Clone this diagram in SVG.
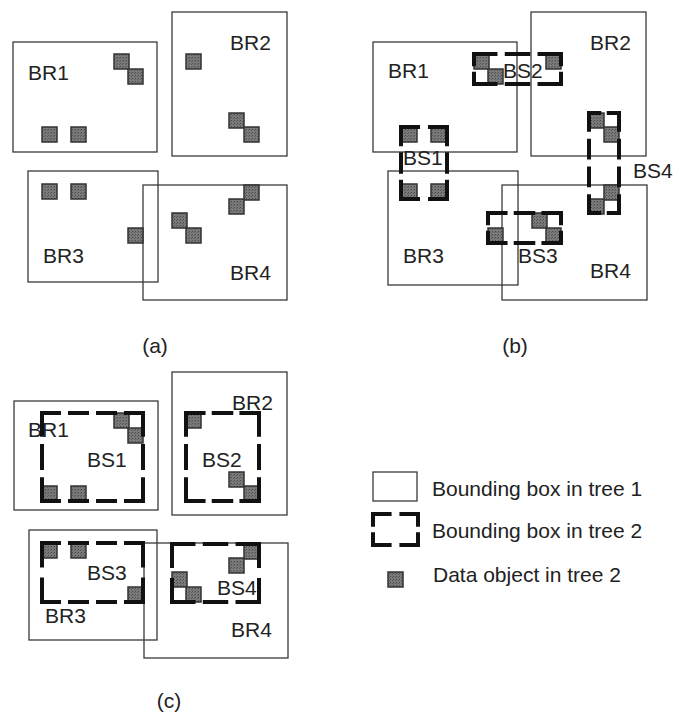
<svg xmlns="http://www.w3.org/2000/svg" width="675" height="715" viewBox="0 0 675 715">
<defs>
<pattern id="grain" width="3" height="3" patternUnits="userSpaceOnUse">
<rect width="3" height="3" fill="#7a7a7a"/>
<rect width="1" height="1" fill="#4a4a4a"/>
<rect x="2" y="1" width="1" height="1" fill="#5a5a5a"/>
</pattern>
</defs>
<style>
.br{fill:none;stroke:#3a3a3a;stroke-width:1.3}
.obj{fill:url(#grain);stroke:#333;stroke-width:1.5}
.bs line{stroke:#111;stroke-width:4;stroke-linecap:butt;fill:none}
.d2{stroke-dasharray:0.42 0.16 0.42 0}
.d3{stroke-dasharray:0.28 0.08 0.28 0.08 0.28 0}
.d4{stroke-dasharray:0.2 0.0667 0.2 0.0667 0.2 0.0666 0.2 0}
text{font-family:"Liberation Sans",Arial,Helvetica,sans-serif;font-size:21px;fill:#222}
.cap{text-anchor:middle}
</style>
<rect width="675" height="715" fill="#fff"/>

<!-- Panel (a) -->
<g id="a-br1"><rect class="br" x="13" y="42" width="144" height="110"/><text x="28" y="80">BR1</text></g>
<g id="a-br2"><rect class="br" x="172" y="12" width="115" height="144"/><text x="230" y="50">BR2</text></g>
<g id="a-br3"><rect class="br" x="28" y="171" width="130" height="111"/><text x="43" y="263">BR3</text></g>
<g id="a-br4"><rect class="br" x="143" y="185" width="144" height="115"/><text x="230" y="280">BR4</text></g>
<g id="a-objects">
<rect class="obj" x="114" y="54" width="15" height="15"/><rect class="obj" x="128" y="69" width="15" height="15"/>
<rect class="obj" x="42" y="127" width="15" height="15"/><rect class="obj" x="71" y="127" width="15" height="15"/>
<rect class="obj" x="186" y="54" width="15" height="15"/><rect class="obj" x="229" y="113" width="15" height="15"/><rect class="obj" x="244" y="127" width="15" height="15"/>
<rect class="obj" x="42" y="184" width="15" height="15"/><rect class="obj" x="71" y="184" width="15" height="15"/><rect class="obj" x="128" y="228" width="15" height="15"/>
<rect class="obj" x="244" y="185" width="15" height="15"/><rect class="obj" x="229" y="199" width="15" height="15"/><rect class="obj" x="172" y="213" width="15" height="15"/><rect class="obj" x="186" y="228" width="15" height="15"/>
</g>
<text class="cap" x="155" y="353">(a)</text>

<!-- Panel (b) -->
<g id="b-br1"><rect class="br" x="373" y="42" width="144" height="110"/><text x="388" y="78">BR1</text></g>
<g id="b-br2"><rect class="br" x="531" y="12" width="115" height="144"/><text x="590" y="50">BR2</text></g>
<g id="b-br3"><rect class="br" x="388" y="171" width="130" height="114"/><text x="403" y="263">BR3</text></g>
<g id="b-br4"><rect class="br" x="502" y="185" width="145" height="115"/><text x="590" y="278">BR4</text></g>
<g id="b-objects">
<rect class="obj" x="474" y="54" width="15" height="15"/><rect class="obj" x="488" y="69" width="15" height="15"/>
<rect class="obj" x="402" y="127" width="15" height="15"/><rect class="obj" x="431" y="127" width="15" height="15"/>
<rect class="obj" x="546" y="54" width="15" height="15"/><rect class="obj" x="589" y="113" width="15" height="15"/><rect class="obj" x="604" y="127" width="15" height="15"/>
<rect class="obj" x="402" y="184" width="15" height="15"/><rect class="obj" x="431" y="184" width="15" height="15"/><rect class="obj" x="488" y="228" width="15" height="15"/>
<rect class="obj" x="604" y="185" width="15" height="15"/><rect class="obj" x="589" y="199" width="15" height="15"/><rect class="obj" x="532" y="213" width="15" height="15"/><rect class="obj" x="546" y="228" width="15" height="15"/>
</g>
<g id="b-bs1" class="bs">
<line class="d2" pathLength="1" x1="399" y1="127" x2="449" y2="127"/><line class="d2" pathLength="1" x1="399" y1="199" x2="449" y2="199"/>
<line class="d3" pathLength="1" x1="401" y1="125" x2="401" y2="201"/><line class="d3" pathLength="1" x1="447" y1="125" x2="447" y2="201"/>
<text x="403" y="165">BS1</text></g>
<g id="b-bs2" class="bs">
<line class="d3" pathLength="1" x1="472" y1="54" x2="563" y2="54"/><line class="d3" pathLength="1" x1="472" y1="84" x2="563" y2="84"/>
<line class="d2" pathLength="1" x1="474" y1="52" x2="474" y2="86"/><line class="d2" pathLength="1" x1="561" y1="52" x2="561" y2="86"/>
<text x="503" y="78">BS2</text></g>
<g id="b-bs3" class="bs">
<line class="d3" pathLength="1" x1="486" y1="213" x2="563" y2="213"/><line class="d3" pathLength="1" x1="486" y1="243" x2="563" y2="243"/>
<line class="d2" pathLength="1" x1="488" y1="211" x2="488" y2="245"/><line class="d2" pathLength="1" x1="561" y1="211" x2="561" y2="245"/>
<text x="518" y="263">BS3</text></g>
<g id="b-bs4" class="bs">
<line class="d2" pathLength="1" x1="587" y1="113" x2="621" y2="113"/><line class="d2" pathLength="1" x1="587" y1="213" x2="621" y2="213"/>
<line class="d4" pathLength="1" x1="589" y1="111" x2="589" y2="215"/><line class="d4" pathLength="1" x1="619" y1="111" x2="619" y2="215"/>
<text x="633" y="178">BS4</text></g>
<text class="cap" x="515" y="353">(b)</text>

<!-- Panel (c) -->
<g id="c-br1"><rect class="br" x="14" y="401" width="144" height="109"/><text x="28" y="437">BR1</text></g>
<g id="c-br2"><rect class="br" x="172" y="372" width="115" height="143"/><text x="232" y="410">BR2</text></g>
<g id="c-br3"><rect class="br" x="29" y="530" width="128" height="110"/><text x="45" y="623">BR3</text></g>
<g id="c-br4"><rect class="br" x="144" y="543" width="144" height="115"/><text x="231" y="637">BR4</text></g>
<g id="c-objects">
<rect class="obj" x="114" y="413" width="15" height="15"/><rect class="obj" x="128" y="428" width="15" height="15"/>
<rect class="obj" x="42" y="486" width="15" height="15"/><rect class="obj" x="71" y="486" width="15" height="15"/>
<rect class="obj" x="186" y="413" width="15" height="15"/><rect class="obj" x="229" y="472" width="15" height="15"/><rect class="obj" x="244" y="486" width="15" height="15"/>
<rect class="obj" x="42" y="543" width="15" height="15"/><rect class="obj" x="71" y="543" width="15" height="15"/><rect class="obj" x="128" y="587" width="15" height="15"/>
<rect class="obj" x="244" y="544" width="15" height="15"/><rect class="obj" x="229" y="558" width="15" height="15"/><rect class="obj" x="172" y="572" width="15" height="15"/><rect class="obj" x="186" y="587" width="15" height="15"/>
</g>
<g id="c-bs1" class="bs">
<line class="d4" pathLength="1" x1="40" y1="413" x2="145" y2="413"/><line class="d4" pathLength="1" x1="40" y1="501" x2="145" y2="501"/>
<line class="d3" pathLength="1" x1="42" y1="411" x2="42" y2="503"/><line class="d3" pathLength="1" x1="143" y1="411" x2="143" y2="503"/>
<text x="87" y="467">BS1</text></g>
<g id="c-bs2" class="bs">
<line class="d3" pathLength="1" x1="184" y1="413" x2="261" y2="413"/><line class="d3" pathLength="1" x1="184" y1="501" x2="261" y2="501"/>
<line class="d3" pathLength="1" x1="186" y1="411" x2="186" y2="503"/><line class="d3" pathLength="1" x1="259" y1="411" x2="259" y2="503"/>
<text x="202" y="467">BS2</text></g>
<g id="c-bs3" class="bs">
<line class="d4" pathLength="1" x1="40" y1="543" x2="145" y2="543"/><line class="d4" pathLength="1" x1="40" y1="602" x2="145" y2="602"/>
<line class="d2" pathLength="1" x1="42" y1="541" x2="42" y2="604"/><line class="d2" pathLength="1" x1="143" y1="541" x2="143" y2="604"/>
<text x="87" y="580">BS3</text></g>
<g id="c-bs4" class="bs">
<line class="d3" pathLength="1" x1="170" y1="544" x2="261" y2="544"/><line class="d3" pathLength="1" x1="170" y1="602" x2="261" y2="602"/>
<line class="d2" pathLength="1" x1="172" y1="542" x2="172" y2="604"/><line class="d2" pathLength="1" x1="259" y1="542" x2="259" y2="604"/>
<text x="217" y="595">BS4</text></g>
<text class="cap" x="169" y="708">(c)</text>

<!-- Legend -->
<g id="legend-tree1"><rect class="br" x="373" y="472" width="44" height="29"/><text x="432" y="496">Bounding box in tree 1</text></g>
<g id="legend-tree2" class="bs">
<line class="d2" pathLength="1" x1="371" y1="514" x2="420" y2="514"/><line class="d2" pathLength="1" x1="371" y1="545" x2="420" y2="545"/>
<line class="d2" pathLength="1" x1="373" y1="512" x2="373" y2="547"/><line class="d2" pathLength="1" x1="418" y1="512" x2="418" y2="547"/>
<text x="432" y="538">Bounding box in tree 2</text></g>
<g id="legend-object"><rect class="obj" x="388" y="572" width="15" height="15"/><text x="433" y="582">Data object in tree 2</text></g>
</svg>
